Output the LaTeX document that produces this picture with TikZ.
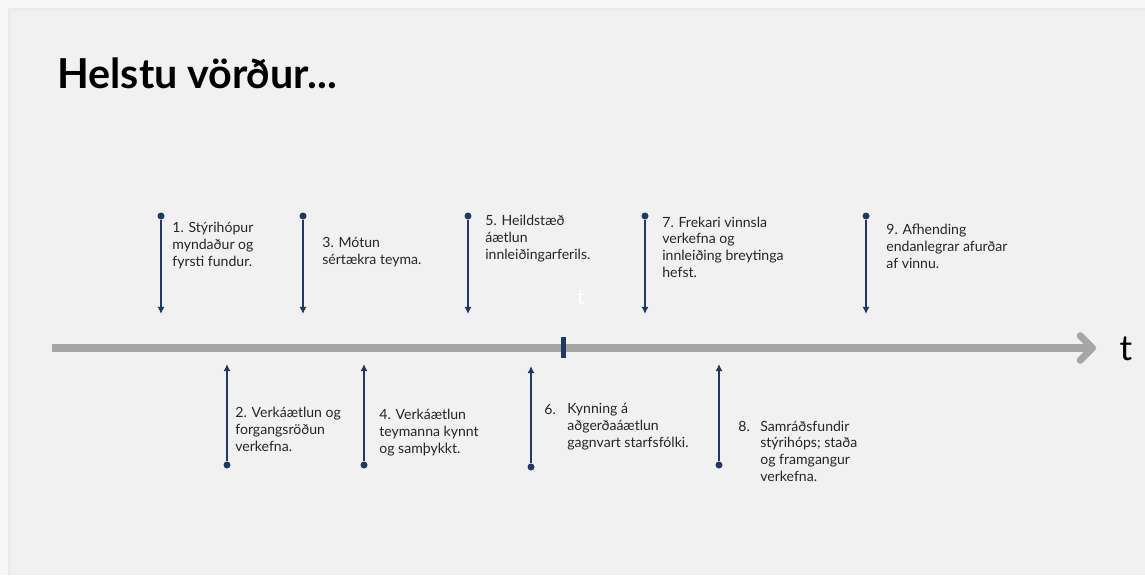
\documentclass[tikz,border=0pt]{standalone}
\usepackage{fontspec}
\setmainfont{Lato}
\usetikzlibrary{arrows.meta, positioning, calc}

\definecolor{navy}{HTML}{203864}
\definecolor{slide}{HTML}{F1F1F1}
\definecolor{axisgray}{HTML}{A6A6A6}

\tikzset{
  dot/.style={circle, fill=navy, inner sep=0pt, minimum size=0.14cm},
  milestone/.style={draw=navy, line width=0.9pt, -{Latex[length=4pt,width=4pt]}},
  txt/.style={anchor=base west, align=left, inner sep=0pt, text=black!85,
    font=\fontsize{8}{9.4}\selectfont},
}

\begin{document}
\begin{tikzpicture}[x=0.02cm, y=-0.02cm]
\useasboundingbox (0,0) rectangle (1145,575);
% slide background
\fill[black!3] (0,0) rectangle (1145,575);
\fill[black!8] (8,8) rectangle (1145,575);
\fill[slide] (11,11) rectangle (1145,575);
\node[anchor=base west, inner sep=0pt, font=\fontsize{23.5}{28}\selectfont\bfseries] (title) at (57,88) {Helstu vörður...};

% Time axis
\coordinate (tstart) at (52,348);
\coordinate (tend) at (1096,348);
\draw[axisgray, line width=4pt, -{Straight Barb[length=7pt,width=14pt,round]}] (tstart) -- (tend);
\node[font=\fontsize{20}{24}\selectfont] (tlab) at (1126,349) {t};
\node[fill=navy, inner sep=0pt, minimum width=0.1cm, minimum height=0.42cm] (now) at (563,347.5) {};
\node[text=white, font=\fontsize{12}{14}\selectfont] (nowlab) at (581,298) {t};

% Top milestones
\node[dot] (d1) at (161,216) {}; \coordinate (e1) at (161,314);
\node[dot] (d3) at (303,216) {}; \coordinate (e3) at (303,314);
\node[dot] (d5) at (468,216) {}; \coordinate (e5) at (468,314);
\node[dot] (d7) at (645,216) {}; \coordinate (e7) at (645,314);
\node[dot] (d9) at (866,216) {}; \coordinate (e9) at (866,314);
\draw[milestone] (d1) -- (e1);
\draw[milestone] (d3) -- (e3);
\draw[milestone] (d5) -- (e5);
\draw[milestone] (d7) -- (e7);
\draw[milestone] (d9) -- (e9);

% (base = last line)
\node[txt] (l1) at (172,266) {1. Stýrihópur\\ myndaður og\\ fyrsti fundur.};
\node[txt] (l3) at (322,264) {3. Mótun\\ sértækra teyma.};
\node[txt] (l5) at (485,259) {5. Heildstæð\\ áætlun\\ innleiðingarferils.};
\node[txt] (l7) at (662,277) {7. Frekari vinnsla\\ verkefna og\\ innleiðing breytinga\\ hefst.};
\node[txt] (l9) at (886,268) {9. Afhending\\ endanlegrar afurðar\\ af vinnu.};

% Bottom milestones
\node[dot] (d2) at (227,465) {}; \coordinate (e2) at (227,364);
\node[dot] (d4) at (364,465) {}; \coordinate (e4) at (364,364);
\node[dot] (d6) at (531,467) {}; \coordinate (e6) at (531,366);
\node[dot] (d8) at (719,465) {}; \coordinate (e8) at (719,364);
\draw[milestone] (d2) -- (e2);
\draw[milestone] (d4) -- (e4);
\draw[milestone] (d6) -- (e6);
\draw[milestone] (d8) -- (e8);

\node[txt] (l2) at (235,451) {2. Verkáætlun og\\ forgangsröðun\\ verkefna.};
\node[txt] (l4) at (379,453) {4. Verkáætlun\\ teymanna kynnt\\ og samþykkt.};
\node[txt] (n6) at (544,414) {6.};
\node[txt] (l6) at (567,447) {Kynning á\\ aðgerðaáætlun\\ gagnvart starfsfólki.};
\node[txt] (n8) at (738,431) {8.};
\node[txt] (l8) at (760,481) {Samráðsfundir\\ stýrihóps; staða\\ og framgangur\\ verkefna.};
\end{tikzpicture}
\end{document}
